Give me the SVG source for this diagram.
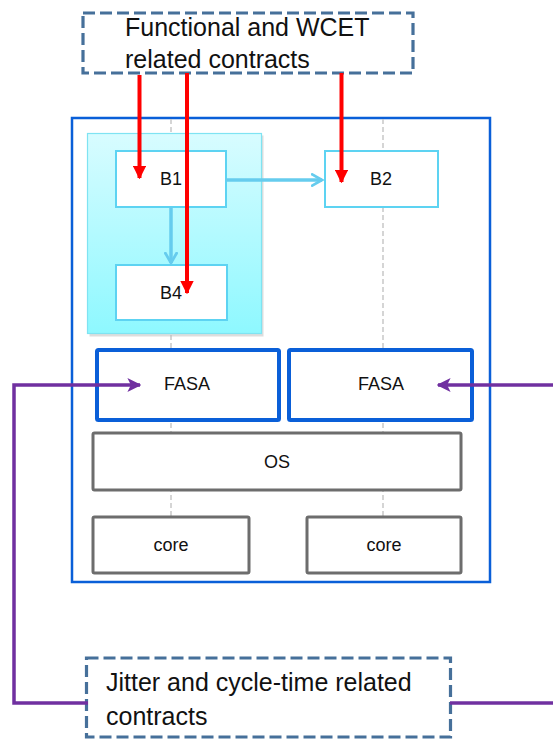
<svg xmlns="http://www.w3.org/2000/svg" width="553" height="740" viewBox="0 0 553 740">
<style>
.contract{fill:#fff;stroke:#46709a;stroke-width:3.2;stroke-dasharray:12 5}
.ctext{font-family:"Liberation Sans",Arial,sans-serif;font-size:25px;fill:#111}
.lbl{font-family:"Liberation Sans",Arial,sans-serif;font-size:18px;fill:#111;text-anchor:middle}
.blk{fill:#fff;stroke:#5dd3f2;stroke-width:2}
.fasa{fill:#fff;stroke:#0a5fd8;stroke-width:4}
.gray{fill:#fff;stroke:#6d6d6d;stroke-width:3}
.red{stroke:#ff0000;stroke-width:4;fill:none}
.purple{stroke:#7030a0;stroke-width:3.5;fill:none}
.cyan{stroke:#66ccee;stroke-width:3.5;fill:none}
.guide{stroke:#c8c8c8;stroke-width:1.5;stroke-dasharray:5 3;fill:none}
</style>
<defs>
<linearGradient id="cg" x1="0" y1="0" x2="0" y2="1">
<stop offset="0" stop-color="#d8fcff"/>
<stop offset="1" stop-color="#8ef8ff"/>
</linearGradient>
<marker id="ar" viewBox="0 0 10 10" refX="9" refY="5" markerWidth="3.4" markerHeight="3.4" orient="auto" markerUnits="strokeWidth">
<path d="M0,0 L10,5 L0,10 z" fill="#ff0000"/>
</marker>
<marker id="ap" viewBox="0 0 10 10" refX="9" refY="5" markerWidth="4" markerHeight="4" orient="auto" markerUnits="strokeWidth">
<path d="M0,0 L10,5 L0,10 L2.5,5 z" fill="#7030a0"/>
</marker>
<marker id="ac" viewBox="0 0 10 10" refX="8" refY="5" markerWidth="4" markerHeight="4" orient="auto" markerUnits="strokeWidth">
<path d="M1,1 L8,5 L1,9" fill="none" stroke="#66ccee" stroke-width="2" stroke-linecap="round"/>
</marker>
</defs>

<g id="container">
<rect x="72" y="118" width="418" height="464" fill="#fff" stroke="#0a5fd8" stroke-width="2.5"/>
</g>

<g id="guides">
<line class="guide" x1="171" y1="119" x2="171" y2="517"/>
<line class="guide" x1="383" y1="119" x2="383" y2="517"/>
</g>

<g id="swc-group">
<rect x="89.5" y="135.5" width="174" height="201" fill="#bbbbbb" opacity="0.5"/>
<rect x="87.5" y="133.5" width="174" height="200" fill="url(#cg)" stroke="#7fe3f2" stroke-width="1.2"/>
</g>

<g id="B1">
<rect class="blk" x="116" y="151" width="110" height="56"/>
<text class="lbl" x="171" y="185" font-size="17">B1</text>
</g>
<g id="B4">
<rect class="blk" x="116" y="265" width="111" height="55"/>
<text class="lbl" x="171" y="299" font-size="17">B4</text>
</g>
<g id="B2">
<rect class="blk" x="325" y="151" width="113" height="56"/>
<text class="lbl" x="381" y="185" font-size="17">B2</text>
</g>

<g id="FASA-left">
<rect class="fasa" x="97" y="350" width="182" height="70" rx="1.5"/>
<text class="lbl" x="187" y="390">FASA</text>
</g>
<g id="FASA-right">
<rect class="fasa" x="289" y="350" width="183" height="70" rx="1.5"/>
<text class="lbl" x="381" y="390">FASA</text>
</g>
<g id="OS">
<rect class="gray" x="93" y="433" width="368" height="57" rx="1.5"/>
<text class="lbl" x="277" y="468">OS</text>
</g>
<g id="core-left">
<rect class="gray" x="93" y="517" width="156" height="56" rx="1.5"/>
<text class="lbl" x="171" y="551" font-size="17">core</text>
</g>
<g id="core-right">
<rect class="gray" x="307" y="517" width="154" height="56" rx="1.5"/>
<text class="lbl" x="384" y="551" font-size="17">core</text>
</g>

<g id="top-contracts">
<rect class="contract" x="83" y="13" width="330" height="60"/>
<text class="ctext" x="125" y="36">Functional and WCET</text>
<text class="ctext" x="125" y="68">related contracts</text>
</g>

<g id="bottom-contracts">
<rect class="contract" x="86.5" y="658" width="364" height="79"/>
<text class="ctext" x="106" y="691" font-size="26">Jitter and cycle-time related</text>
<text class="ctext" x="106" y="725" font-size="26">contracts</text>
</g>

<g id="connectors">
<line class="cyan" x1="226" y1="180" x2="322" y2="180" marker-end="url(#ac)"/>
<line class="cyan" x1="171" y1="207" x2="171" y2="263" marker-end="url(#ac)"/>
<line class="red" x1="139.5" y1="75" x2="139.5" y2="178" marker-end="url(#ar)"/>
<line class="red" x1="187" y1="73" x2="187" y2="293" marker-end="url(#ar)"/>
<line class="red" x1="341.5" y1="73" x2="341.5" y2="182" marker-end="url(#ar)"/>
<polyline class="purple" points="88,703 14,703 14,385 140,385" marker-end="url(#ap)"/>
<line class="purple" x1="556" y1="385" x2="438" y2="385" marker-end="url(#ap)"/>
<line class="purple" x1="450" y1="703" x2="556" y2="703"/>
</g>
</svg>
